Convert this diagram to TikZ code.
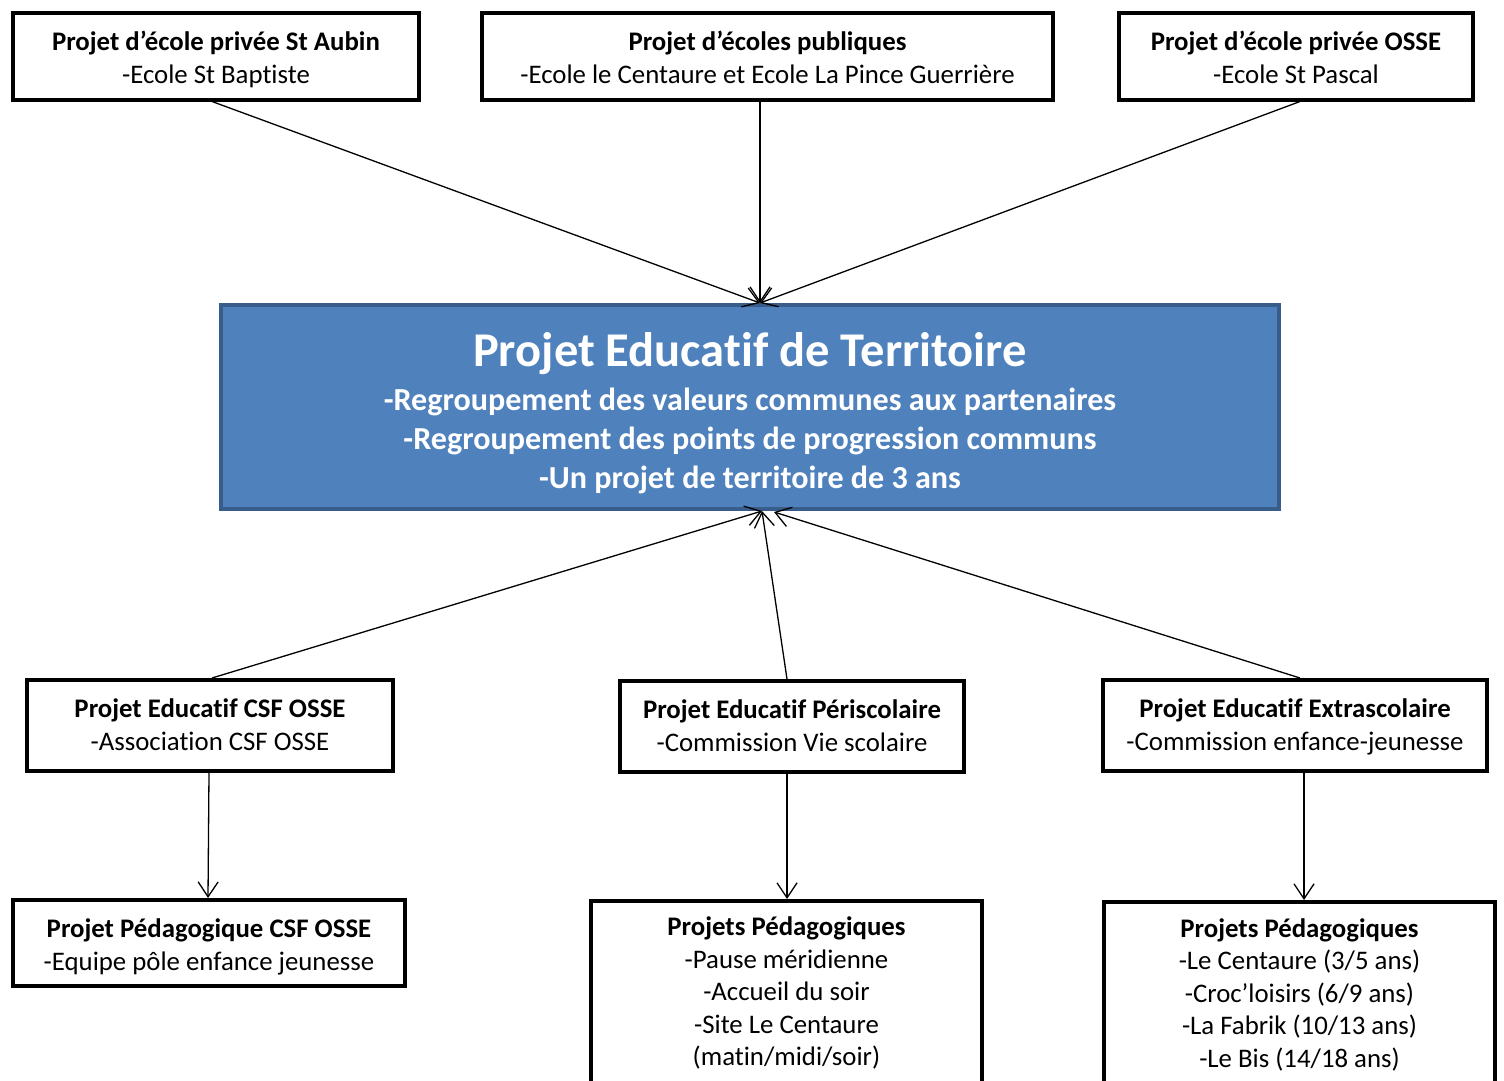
\documentclass[tikz,border=0pt]{standalone}
\usepackage{fontspec}
\setmainfont{Carlito}[Ligatures=NoCommon]
\usetikzlibrary{arrows.meta}
\definecolor{mainfill}{HTML}{4F81BD}
\definecolor{mainedge}{HTML}{385D8A}
% two-line box content: #1 bold line, #2 regular line, #3 height strut of line 1
\newcommand\twolines[3]{\rule{0pt}{#3}\textbf{#1}\\#2\rule[-9pt]{0pt}{9pt}}
\begin{document}
\begin{tikzpicture}[x=1pt,y=-1pt,
  box/.style={draw=black, line width=4pt, fill=white, align=center, inner sep=0pt,
    font=\fontsize{26.8}{32.5}\selectfont},
  arr/.style={line width=1.3pt, -{Straight Barb[length=15pt,width=20pt,line width=1.3pt]}}]
\useasboundingbox (0,0) rectangle (1504,1081);
\clip (0,0) rectangle (1504,1081);
% top boxes
\node[box, minimum width=406, minimum height=86] (tl) at (216,56.5)
  {\twolines{Projet d’école privée St Aubin}{-Ecole St Baptiste}{29.7pt}};
\node[box, minimum width=571, minimum height=86] (tc) at (767.5,56.5)
  {\twolines{Projet d’écoles publiques}{-Ecole le Centaure et Ecole La Pince Guerrière}{29.7pt}};
\node[box, minimum width=354, minimum height=86] (tr) at (1296,56.5)
  {\twolines{Projet d’école privée OSSE}{-Ecole St Pascal}{29.7pt}};
% main box
\node[draw=mainedge, fill=mainfill, line width=4pt, text=white, align=center,
  minimum width=1058, minimum height=204, inner sep=0pt,
  font=\fontsize{32.1}{39}\selectfont\bfseries] (main) at (750,407)
  {\rule{0pt}{47pt}{\fontsize{48.5}{48}\selectfont Projet Educatif de Territoire}\\[5pt]
   -Regroupement des valeurs communes aux partenaires\\
   -Regroupement des points de progression communs\\
   -Un projet de territoire de 3 ans};
\coordinate (mt) at (760,303);
\coordinate (mb) at (762,511);
\coordinate (mb2) at (774,512);
% middle boxes
\node[box, minimum width=366, minimum height=91] (ml) at (210,725.5)
  {\twolines{Projet Educatif CSF OSSE}{-Association CSF OSSE}{25.7pt}};
\node[box, minimum width=344, minimum height=91] (mc) at (792,726.5)
  {\twolines{Projet Educatif Périscolaire}{-Commission Vie scolaire}{25.7pt}};
\node[box, minimum width=384, minimum height=91] (mr) at (1295,725.5)
  {\twolines{Projet Educatif Extrascolaire}{-Commission enfance-jeunesse}{25.7pt}};
% bottom boxes
\node[box, minimum width=392, minimum height=86] (bl) at (209,943)
  {\twolines{Projet Pédagogique CSF OSSE}{-Equipe pôle enfance jeunesse}{30.7pt}};
\node[box, anchor=north, minimum width=391, inner ysep=16pt] (bc) at (786.5,899)
  {\textbf{Projets Pédagogiques}\\-Pause méridienne\\-Accueil du soir\\-Site Le Centaure\\(matin/midi/soir)\\ \strut};
\node[box, anchor=north, minimum width=391, inner ysep=16.5pt] (br) at (1299.5,900)
  {\textbf{Projets Pédagogiques}\\-Le Centaure (3/5 ans)\\-Croc’loisirs (6/9 ans)\\-La Fabrik (10/13 ans)\\-Le Bis (14/18 ans)\\ \strut};
% connectors
\draw[arr] ([xshift=-4pt]tl.south) -- (mt);
\draw[arr] ([xshift=-7.5pt]tc.south) -- (mt);
\draw[arr] ([xshift=4pt]tr.south) -- (mt);
\draw[arr] ([xshift=2pt]ml.north) -- (mb);
\draw[arr] ([xshift=-5pt]mc.north) -- (mb);
\draw[arr] ([xshift=5pt]mr.north) -- (mb2);
\draw[arr] ([xshift=-1pt]ml.south) -- ([xshift=-1pt]bl.north);
\draw[arr] ([xshift=-5pt]mc.south) -- ([xshift=0.5pt]bc.north);
\draw[arr] ([xshift=9pt]mr.south) -- ([xshift=4.5pt]br.north);
\end{tikzpicture}
\end{document}
